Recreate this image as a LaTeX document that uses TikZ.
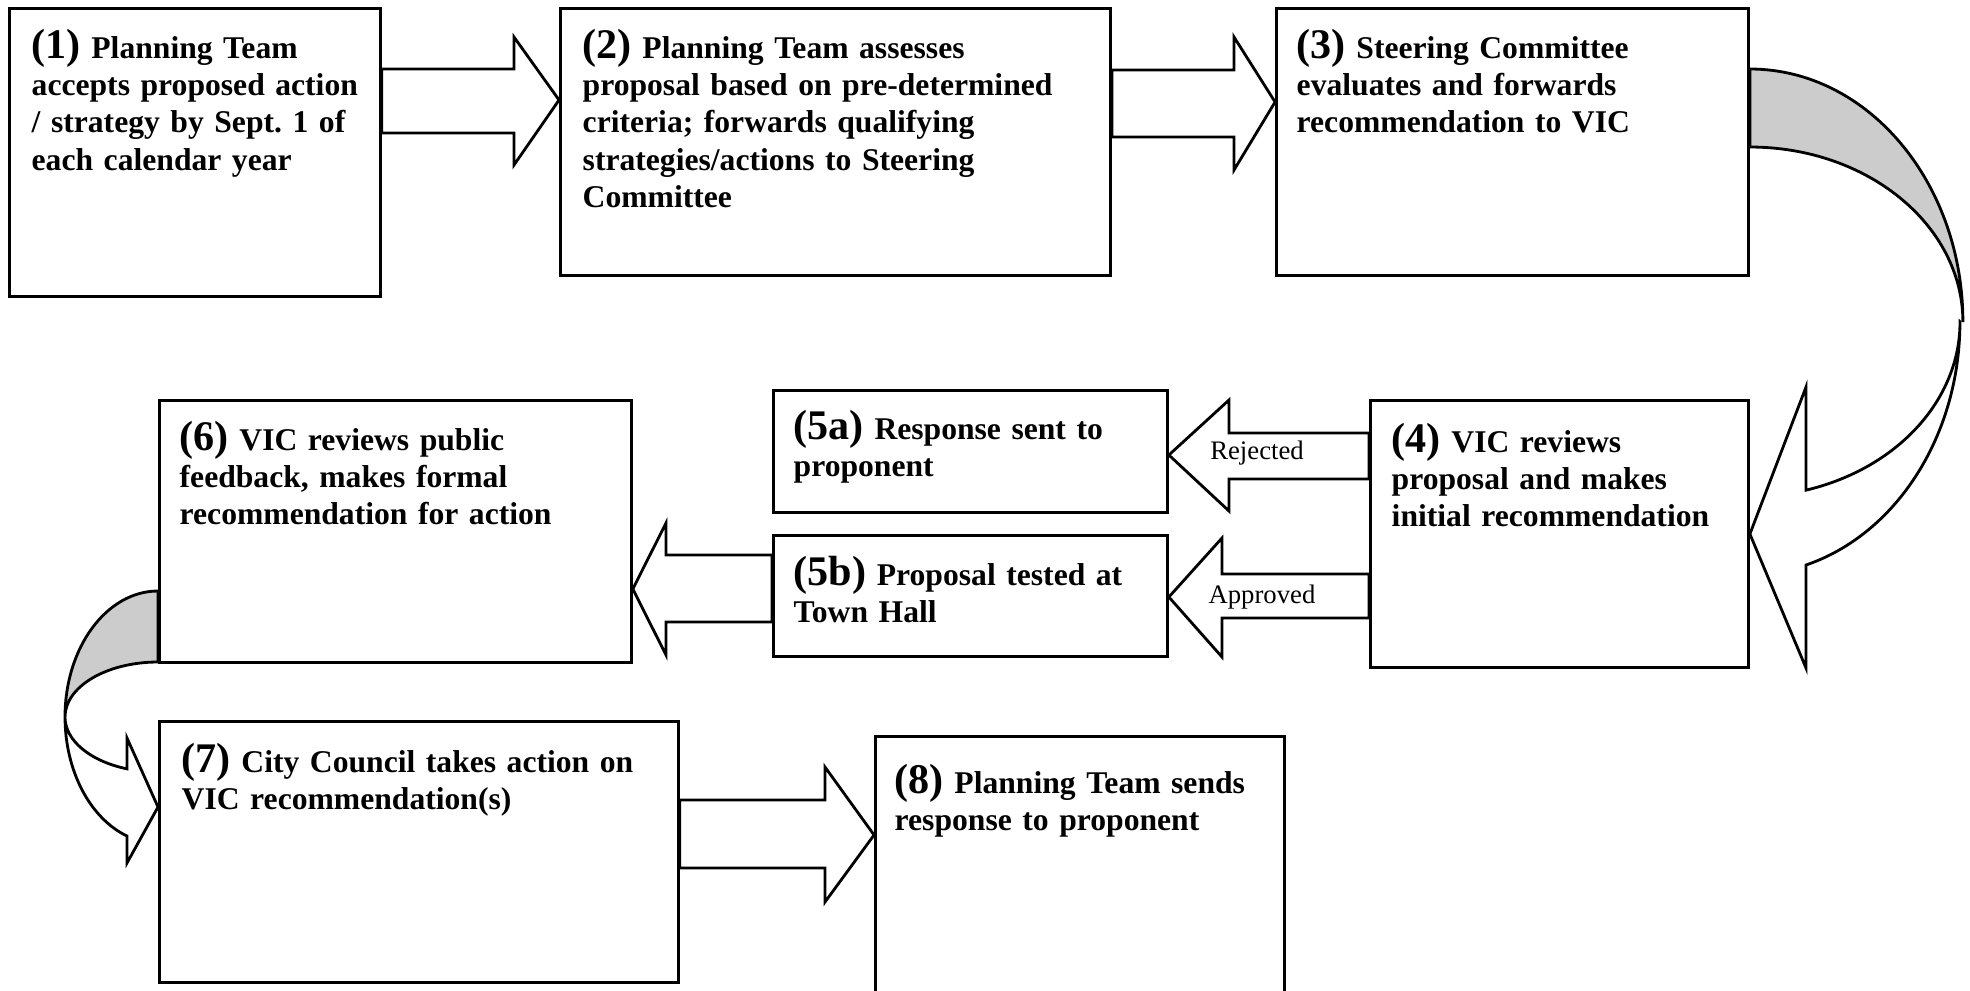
\documentclass[tikz,border=0pt]{standalone}
\usepackage{fontspec}
\setmainfont{Liberation Serif}
\usepackage{tikz}
\definecolor{ribbongray}{RGB}{204,204,204}
\newcommand\stepnum[1]{{\fontsize{12}{10.66}\selectfont(#1)}}
\tikzset{
  stage/.style={draw=black, line width=0.8pt, anchor=north west},
  txt/.style={anchor=base west, align=left, text width=6cm, font=\bfseries\fontsize{9.0}{10.66}\selectfont},
  lbl/.style={font=\fontsize{7.6}{9}\selectfont},
  blockarrow/.style={draw=black, fill=white, line width=0.8pt},
  ribbon/.style={draw=black, fill=ribbongray, line width=0.8pt}
}
\begin{document}
\begin{tikzpicture}[scale=0.1]
\tikzstyle{every node}+=[inner sep=0pt]
\useasboundingbox (0,0) rectangle (197,-99);
\clip (0,0) rectangle (197,-99);
\draw (0.8,-0.7) node [stage, minimum width=3.71cm, minimum height=2.88cm] (s1) {};
\draw (55.9,-0.7) node [stage, minimum width=5.50cm, minimum height=2.67cm] (s2) {};
\draw (127.5,-0.7) node [stage, minimum width=4.72cm, minimum height=2.67cm] (s3) {};
\draw (136.9,-39.9) node [stage, minimum width=3.78cm, minimum height=2.67cm] (s4) {};
\draw (77.2,-38.9) node [stage, minimum width=3.94cm, minimum height=1.22cm] (s5a) {};
\draw (77.2,-53.4) node [stage, minimum width=3.94cm, minimum height=1.21cm] (s5b) {};
\draw (15.8,-39.9) node [stage, minimum width=4.72cm, minimum height=2.62cm] (s6) {};
\draw (15.8,-72.0) node [stage, minimum width=5.19cm, minimum height=2.61cm] (s7) {};
\draw (87.4,-73.5) node [stage, minimum width=4.09cm, minimum height=3.00cm] (s8) {};
\draw (3.1,-5.8) node [txt] (t1) {\stepnum{1} Planning Team\\accepts proposed action\\/ strategy by Sept.\ 1 of\\each calendar year};
\draw (58.2,-5.8) node [txt] (t2) {\stepnum{2} Planning Team assesses\\proposal based on pre-determined\\criteria; forwards qualifying\\strategies/actions to Steering\\Committee};
\draw (129.6,-5.8) node [txt] (t3) {\stepnum{3} Steering Committee\\evaluates and forwards\\recommendation to VIC};
\draw (139.1,-45.2) node [txt] (t4) {\stepnum{4} VIC reviews\\proposal and makes\\initial recommendation};
\draw (79.3,-43.9) node [txt] (t5a) {\stepnum{5a} Response sent to\\proponent};
\draw (79.3,-58.5) node [txt] (t5b) {\stepnum{5b} Proposal tested at\\Town Hall};
\draw (17.9,-45.0) node [txt] (t6) {\stepnum{6} VIC reviews public\\feedback, makes formal\\recommendation for action};
\draw (18.1,-77.2) node [txt] (t7) {\stepnum{7} City Council takes action on\\VIC recommendation(s)};
\draw (89.4,-79.3) node [txt] (t8) {\stepnum{8} Planning Team sends\\response to proponent};
\draw [blockarrow] (s1.east |- 0,-6.9) -- (51.4,-6.9) -- (51.4,-3.7) -- (s2.west |- 0,-10.0) -- (51.4,-16.5) -- (51.4,-13.3) -- (s1.east |- 0,-13.3) -- cycle;
\draw [blockarrow] (s2.east |- 0,-7.0) -- (123.4,-7.0) -- (123.4,-3.7) -- (s3.west |- 0,-10.2) -- (123.4,-17.0) -- (123.4,-13.7) -- (s2.east |- 0,-13.7) -- cycle;
\draw [ribbon] (s3.east |- 0,-6.9) arc [start angle=90, end angle=0, x radius=21.3, y radius=25.3] arc [start angle=0, end angle=90, x radius=21.3, y radius=17.5] -- cycle;
\draw [blockarrow] (196,-32.2) arc [start angle=0, end angle=-73.9, x radius=21.3, y radius=17.5] -- (180.6,-38.7) -- (s4.east |- 0,-53.4) -- (180.6,-66.8) -- (180.6,-56.5) arc [start angle=-73.9, end angle=0, x radius=21.3, y radius=25.3] -- cycle;
\draw [blockarrow] (s4.west |- 0,-43.3) -- (122.9,-43.3) -- (122.9,-40.0) -- (s5a.east |- 0,-45.5) -- (122.9,-51.1) -- (122.9,-47.9) -- (s4.west |- 0,-47.9) -- cycle;
\draw [blockarrow] (s4.west |- 0,-57.4) -- (122.2,-57.4) -- (122.2,-53.8) -- (s5b.east |- 0,-59.7) -- (122.2,-65.7) -- (122.2,-61.8) -- (s4.west |- 0,-61.8) -- cycle;
\draw (125.7,-45.3) node [lbl] (rej) {Rejected};
\draw (126.2,-59.7) node [lbl] (appr) {Approved};
\draw [blockarrow] (s5b.west |- 0,-55.5) -- (66.6,-55.5) -- (66.6,-52.3) -- (s6.east |- 0,-58.9) -- (66.6,-65.5) -- (66.6,-62.2) -- (s5b.west |- 0,-62.2) -- cycle;
\draw [ribbon] (s6.west |- 0,-59.1) arc [start angle=90, end angle=180, x radius=9.3, y radius=12.6] arc [start angle=180, end angle=90, x radius=9.3, y radius=5.5] -- cycle;
\draw [blockarrow] (6.5,-71.7) arc [start angle=180, end angle=250.5, x radius=9.3, y radius=5.5] -- (12.7,-73.8) -- (s7.west |- 0,-80.7) -- (12.7,-86.3) -- (12.7,-83.6) arc [start angle=250.5, end angle=180, x radius=9.3, y radius=12.6] -- cycle;
\draw [blockarrow] (s7.east |- 0,-80.0) -- (82.5,-80.0) -- (82.5,-76.7) -- (s8.west |- 0,-83.5) -- (82.5,-90.2) -- (82.5,-86.8) -- (s7.east |- 0,-86.8) -- cycle;
\end{tikzpicture}
\end{document}
